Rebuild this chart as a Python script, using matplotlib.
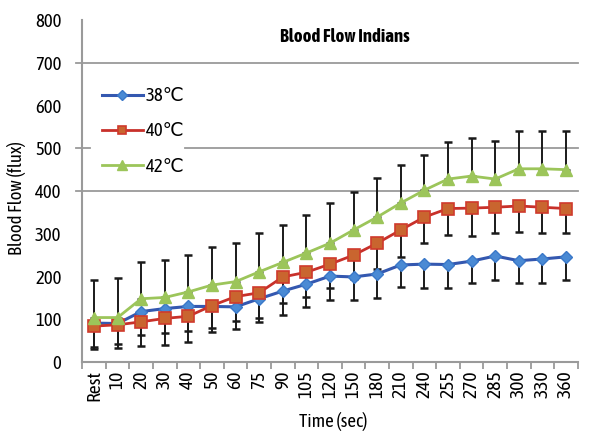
import numpy as np
import matplotlib
matplotlib.use("Agg")
from matplotlib import pyplot as plt
from matplotlib import font_manager

# the source uses a condensed face; take one if the box has it
have = {f.name for f in font_manager.fontManager.ttflist}
if 'Asap Condensed' in have:
    base, fs = 'Asap Condensed', 13.5
else:
    base, fs = 'Liberation Sans', 11
fams = [base]
if 'DejaVu Sans Condensed' in have:
    fams.append('DejaVu Sans Condensed')
fams.append('DejaVu Sans')
plt.rcParams['font.family'] = fams

# time points (categories)
times = ['Rest', '10', '20', '30', '40', '50', '60', '75', '90', '105', '120',
         '150', '180', '210', '240', '255', '270', '285', '300', '330', '360']

# mean blood flow per temperature
flow_38 = [91, 90, 118, 125, 130, 130, 129, 148, 166, 182, 201,
           199, 206, 227, 229, 228, 236, 248, 237, 241, 246]
flow_40 = [84, 87, 94, 102, 107, 132, 153, 162, 199, 210, 229,
           250, 278, 309, 339, 359, 360, 362, 365, 362, 359]
flow_42 = [104, 104, 148, 151, 164, 180, 188, 211, 233, 255, 278,
           309, 339, 372, 402, 428, 435, 428, 452, 452, 450]

# one-sided error bars (38 and 40 minus, 42 plus)
err_38 = [61, 57, 55, 57, 58, 60, 52, 54, 56, 53, 56,
          54, 56, 52, 56, 55, 51, 56, 52, 56, 54]
err_40 = [49, 45, 57, 62, 60, 52, 57, 59, 61, 58, 56,
          55, 60, 63, 61, 62, 65, 60, 61, 60, 57]
err_42 = [88, 92, 86, 88, 86, 89, 90, 91, 87, 89, 94,
          89, 91, 89, 82, 87, 89, 89, 88, 88, 90]

x = np.arange(len(times))
zeros = np.zeros(len(times))

fig = plt.figure(figsize=(6, 4.45), dpi=100)
ax = fig.add_axes([0.137, 0.1865, 0.826, 0.7685])

ebar = dict(fmt='none', ecolor='#1a1a1a', elinewidth=1.4, capsize=3,
            capthick=1.8, zorder=2)
ax.errorbar(x, flow_38, yerr=[err_38, zeros], **ebar)
ax.errorbar(x, flow_40, yerr=[err_40, zeros], **ebar)
ax.errorbar(x, flow_42, yerr=[zeros, err_42], **ebar)

ax.plot(x, flow_38, color='#3458b0', lw=2.2, marker='D', ms=6.5,
        mfc='#4a8ad4', mec='#3a78c8', label='38\u2103', zorder=3)
ax.plot(x, flow_40, color='#c8302a', lw=2, marker='s', ms=8.5,
        mfc='#c9652f', mec='#d03a2c', mew=1.2, label='40\u2103', zorder=3)
ax.plot(x, flow_42, color='#9cc55a', lw=2, marker='^', ms=9,
        mfc='#9cc55a', mec='#9cc55a', label='42\u2103', zorder=3)

# gridlines as they appear in the source figure
for yv in [400, 700]:
    ax.axhline(yv, xmin=-0.012, xmax=1, color='#9a9a9a', lw=1.3, clip_on=False, zorder=1)
ax.axhline(500, xmin=-0.012, xmax=0.016, color='#9a9a9a', lw=1.3, clip_on=False, zorder=1)
ax.axhline(500, xmin=0.208, xmax=1, color='#9a9a9a', lw=1.3, clip_on=False, zorder=1)

ax.set_xlim(-0.5, len(times) - 0.5)
ax.set_ylim(0, 800)
ax.set_yticks(range(0, 801, 100))
ax.set_xticks(x)
ax.set_xticklabels(times, rotation=90, fontsize=fs + 0.5)
ax.tick_params(axis='y', length=0, pad=15, labelsize=fs)
ax.tick_params(axis='x', length=0, pad=6)
ax.set_xticks(np.arange(-0.5, len(times), 1), minor=True)
ax.tick_params(axis='x', which='minor', length=5, color='#9a9a9a', width=1.3)

for side in ['top', 'right']:
    ax.spines[side].set_visible(False)
for side in ['left', 'bottom']:
    ax.spines[side].set_color('#9a9a9a')
    ax.spines[side].set_linewidth(1.5)

ax.text(0.53, 0.95, 'Blood Flow Indians', transform=ax.transAxes,
        ha='center', va='center', fontsize=fs, fontweight='bold')
fig.text(0.028, 0.555, 'Blood Flow (flux)', rotation=90, ha='center', va='center',
         fontsize=fs)
fig.text(0.555, 0.052, 'Time (sec)', ha='center', va='center', fontsize=fs)

ax.legend(loc='upper left', bbox_to_anchor=(0.005, 0.853), frameon=False,
          fontsize=fs, handlelength=2.2, handletextpad=0.15, labelspacing=0.92,
          markerscale=0.75)

fig.savefig('out.png', dpi=100)
